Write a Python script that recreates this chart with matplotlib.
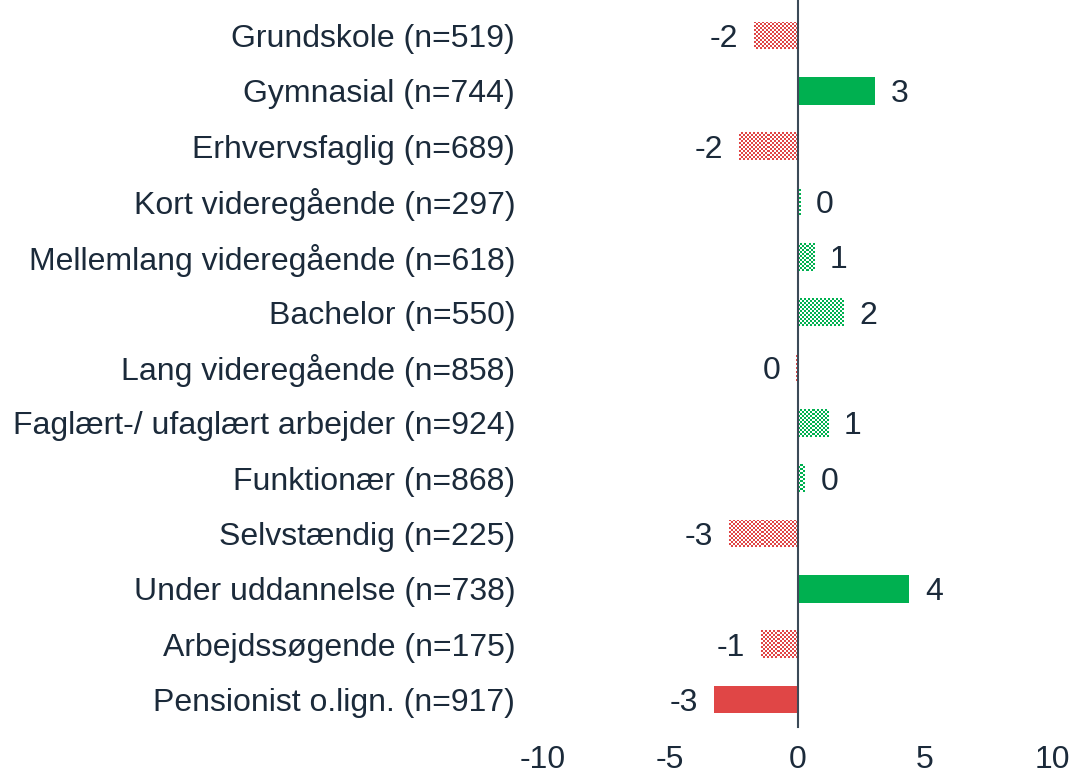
import numpy as np
import matplotlib.pyplot as plt

categories = ['Grundskole (n=519)', 'Gymnasial (n=744)', 'Erhvervsfaglig (n=689)',
              'Kort videregående (n=297)', 'Mellemlang videregående (n=618)',
              'Bachelor (n=550)', 'Lang videregående (n=858)',
              'Faglært-/ ufaglært arbejder (n=924)', 'Funktionær (n=868)',
              'Selvstændig (n=225)', 'Under uddannelse (n=738)',
              'Arbejdssøgende (n=175)', 'Pensionist o.lign. (n=917)']
values = [-1.7, 3.03, -2.3, 0.1, 0.63, 1.8, -0.05, 1.2, 0.27, -2.7, 4.37, -1.45, -3.27]
significant = [False, True, False, False, False, False, False, False, False, False, True, False, True]
xticks = [-10, -5, 0, 5, 10]

GREEN = '#00b050'
RED = '#e04646'
TXT = '#1b2a3a'
FS = 23

plt.rcParams['font.family'] = ['Liberation Sans', 'DejaVu Sans']

fig = plt.figure(figsize=(10.74, 7.73), dpi=100)
ax = fig.add_axes([0.5056, 0.0595, 0.474, 0.9305])

y = np.arange(len(categories))
bar_h = 0.5
colors = [GREEN if v >= 0 else RED for v in values]

bars = ax.barh(y, values, height=bar_h, color=colors, linewidth=0)

# checkerboard fill for non-significant bars
px_per_unit = 1074 * 0.474 / 20
px_per_row = 773 * 0.9305 / 13
for b, v, sig, c in zip(bars, values, significant, colors):
    if sig:
        continue
    b.set_facecolor('none')
    nx = max(1, int(round(abs(v) * px_per_unit / 2)))
    ny = int(round(bar_h * px_per_row / 2))
    rgb = np.array(plt.matplotlib.colors.to_rgb(c))
    img = np.ones((ny, nx, 3))
    ii, jj = np.indices((ny, nx))
    img[(ii + jj) % 2 == 0] = rgb
    x0, x1 = b.get_x(), b.get_x() + b.get_width()
    y0, y1 = b.get_y(), b.get_y() + b.get_height()
    im = ax.imshow(img, extent=(x0, x1, y0, y1), aspect='auto',
                   interpolation='nearest', zorder=2)
    im.set_clip_path(b)

# value labels
for yi, v in zip(y, values):
    lab = '%d' % round(v)
    if lab == '-0':
        lab = '0'
    if v >= 0:
        ax.annotate(lab, (v, yi), xytext=(16, 0), textcoords='offset pixels',
                    ha='left', va='center_baseline', fontsize=FS, color=TXT)
    else:
        ax.annotate(lab, (v, yi), xytext=(-16, 0), textcoords='offset pixels',
                    ha='right', va='center_baseline', fontsize=FS, color=TXT)

# zero line, running up to the top edge of the figure
ax.plot([0, 0], [len(categories) - 0.5, -0.66], color='#3c4a58',
        linewidth=1.5, zorder=3, clip_on=False)

ax.set_xlim(-10, 10)
ax.set_ylim(len(categories) - 0.5, -0.5)
ax.set_xticks(xticks)
ax.set_xticklabels([str(t) for t in xticks], fontsize=FS, color=TXT)
ax.set_yticks(y)
ax.set_yticklabels(categories, fontsize=FS, color=TXT, va='center_baseline')
ax.tick_params(axis='y', length=0, pad=20)
ax.tick_params(axis='x', length=0, pad=13)
for s in ax.spines.values():
    s.set_visible(False)

fig.savefig('out.png', dpi=100)
